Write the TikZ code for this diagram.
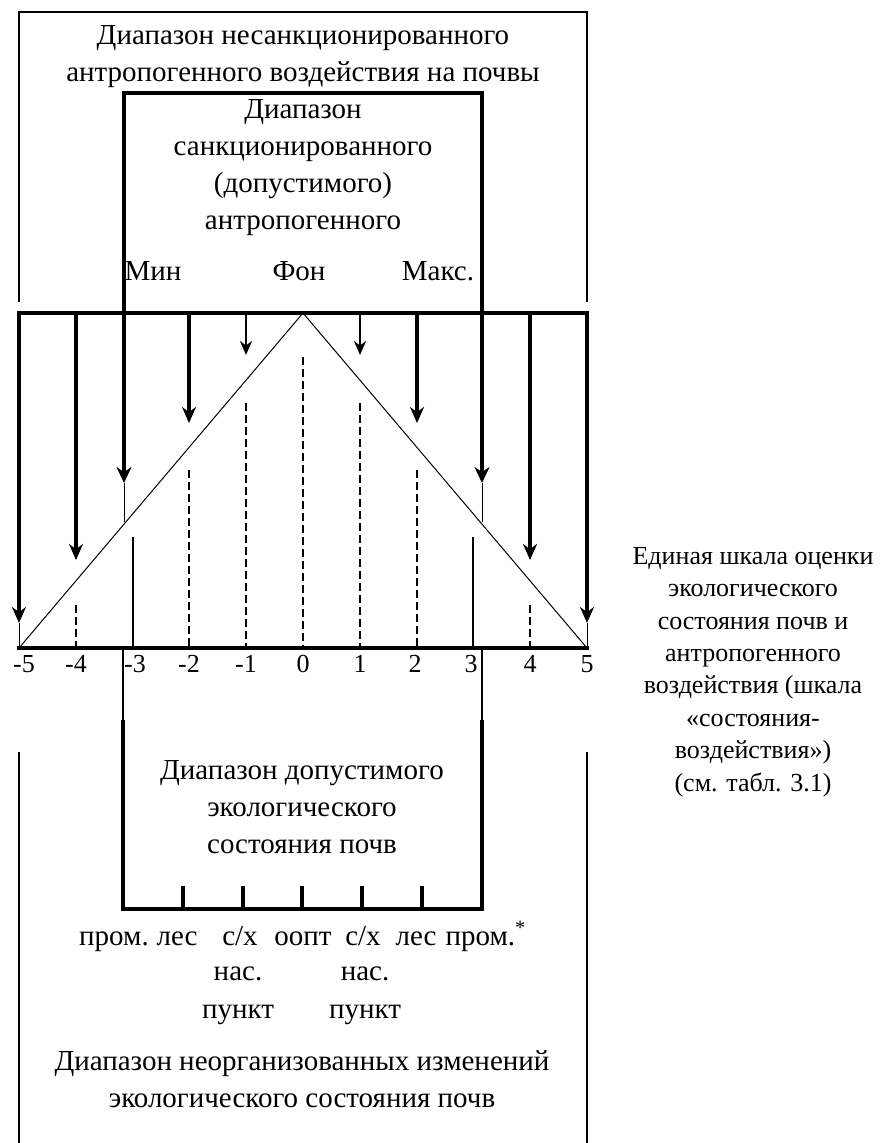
\documentclass[tikz,border=0pt]{standalone}
\usepackage{fontspec}
\setmainfont{Liberation Serif}
\usetikzlibrary{arrows.meta}
\tikzset{
  thinline/.style={line width=0.5pt},
  frameline/.style={line width=0.7pt},
  rangeline/.style={line width=2.2pt},
  boxline/.style={line width=1.8pt},
  downarrow/.style={-{Stealth[length=8pt, width=7pt]}, line width=2pt},
  lightarrow/.style={-{Stealth[length=7pt, width=6pt]}, line width=1.3pt},
  framearrow/.style={{Stealth[length=8pt, width=7.5pt]}-{Stealth[length=8pt, width=7.5pt]}, line width=2.4pt},
  dashtick/.style={line width=1.3pt, dash pattern=on 4pt off 2pt},
  solidtick/.style={line width=1pt},
  rangetext/.style={align=center, inner sep=0pt, font=\fontsize{14.5}{18.5}\selectfont},
  rowtext/.style={inner sep=0pt, anchor=base, font=\fontsize{14.5}{18.5}\selectfont},
  scaletext/.style={align=center, inner sep=0pt, font=\fontsize{13}{16.2}\selectfont},
  numtext/.style={inner sep=0pt, font=\fontsize{13}{15}\selectfont},
}

\begin{document}
\begin{tikzpicture}[x=0.5pt, y=-0.5pt]
  \useasboundingbox (0,0) rectangle (880,1143);

  % Outer frame: unsanctioned range (top part and open bottom part)
  \coordinate (outTL)  at (19,302);
  \coordinate (outTR)  at (587,302);
  \coordinate (outTop) at (303,12);
  \coordinate (outBL)  at (19,752);
  \coordinate (outBR)  at (587,752);
  \coordinate (outBot) at (303,1143);
  \draw[frameline] (outTL) -- (outTL |- outTop) -- (outTR |- outTop) -- (outTR);
  \draw[frameline] (outBL) -- (outBL |- outBot);
  \draw[frameline] (outBR) -- (outBR |- outBot);

  % Scale bars and the triangle
  \coordinate (barTL) at (17,313);
  \coordinate (barTR) at (589,313);
  \coordinate (barBL) at (17,648);
  \coordinate (barBR) at (589,648);
  \coordinate (apex)  at (303,313);
  \draw[rangeline] (barTL) -- (barTR);
  \draw[rangeline] (barBL) -- (barBR);

  % Arrow tips
  \coordinate (am5) at (19,623);
  \coordinate (am4) at (76,560);
  \coordinate (am2) at (189,423);
  \coordinate (am1) at (246,355);
  \coordinate (ap1) at (360,355);
  \coordinate (ap2) at (417,423);
  \coordinate (ap4) at (530,560);
  \coordinate (ap5) at (587,623);

  \draw[thinline] (am5 |- barBL) -- (apex) -- (ap5 |- barBL);

  \draw[downarrow]  (am5 |- barTL) -- (am5);
  \draw[downarrow]  (am4 |- barTL) -- (am4);
  \draw[downarrow]  (am2 |- barTL) -- (am2);
  \draw[lightarrow] (am1 |- barTL) -- (am1);
  \draw[lightarrow] (ap1 |- barTL) -- (ap1);
  \draw[downarrow]  (ap2 |- barTL) -- (ap2);
  \draw[downarrow]  (ap4 |- barTL) -- (ap4);
  \draw[downarrow]  (ap5 |- barTL) -- (ap5);
  \draw[thinline] (am5) -- (am5 |- barBL);
  \draw[thinline] (ap5) -- (ap5 |- barBL);

  % Dashed and solid ticks on the scale
  \coordinate (dm4) at (76,605);
  \coordinate (dm2) at (189,470);
  \coordinate (dm1) at (246,403);
  \coordinate (d0)  at (303,357);
  \coordinate (dp1) at (360,403);
  \coordinate (dp2) at (417,470);
  \coordinate (dp4) at (530,605);
  \coordinate (sm3) at (133,537);
  \coordinate (sp3) at (473,537);
  \draw[dashtick] (dm4) -- (dm4 |- barBL);
  \draw[dashtick] (dm2) -- (dm2 |- barBL);
  \draw[dashtick] (dm1) -- (dm1 |- barBL);
  \draw[dashtick] (d0)  -- (d0 |- barBL);
  \draw[dashtick] (dp1) -- (dp1 |- barBL);
  \draw[dashtick] (dp2) -- (dp2 |- barBL);
  \draw[dashtick] (dp4) -- (dp4 |- barBL);
  \draw[solidtick] (sm3) -- (sm3 |- barBL);
  \draw[solidtick] (sp3) -- (sp3 |- barBL);

  % Sanctioned range frame
  \coordinate (sanL)    at (124,483);
  \coordinate (sanR)    at (482,483);
  \coordinate (sanTop)  at (303,93);
  \coordinate (sanLlow) at (124,522);
  \coordinate (sanRlow) at (482,522);
  \draw[framearrow] (sanL) -- (sanL |- sanTop) -- (sanR |- sanTop) -- (sanR);
  \draw[thinline] (sanL) -- (sanLlow);
  \draw[thinline] (sanR) -- (sanRlow);

  % Admissible state box
  \coordinate (admL)   at (123,720);
  \coordinate (admR)   at (482,720);
  \coordinate (admBot) at (303,909);
  \coordinate (lesL)   at (183,886);
  \coordinate (agrL)   at (243,886);
  \coordinate (oopt)   at (302,886);
  \coordinate (agrR)   at (362,886);
  \coordinate (lesR)   at (422,886);
  \draw[frameline] (admL |- barBL) -- (admL);
  \draw[frameline] (admR |- barBL) -- (admR);
  \draw[boxline] (admL) -- (admL |- admBot) -- (admR |- admBot) -- (admR);
  \draw[boxline] (lesL) -- (lesL |- admBot);
  \draw[boxline] (agrL) -- (agrL |- admBot);
  \draw[boxline] (oopt) -- (oopt |- admBot);
  \draw[boxline] (agrR) -- (agrR |- admBot);
  \draw[boxline] (lesR) -- (lesR |- admBot);

  % Texts
  \node[rangetext] (unsanc) at (303,57)  {Диапазон несанкционированного\\антропогенного воздействия на почвы};
  \node[rangetext] (sanc)   at (303,168) {Диапазон\\санкционированного\\(допустимого)\\антропогенного};
  \node[rowtext] (minlab) at (153,281) {Мин};
  \node[rowtext] (fonlab) at (299,281) {Фон};
  \node[rowtext] (maxlab) at (438,281) {Макс.};

  \node[numtext] (nm5) at (24,664)  {-5};
  \node[numtext] (nm4) at (76,664)  {-4};
  \node[numtext] (nm3) at (135,664) {-3};
  \node[numtext] (nm2) at (189,664) {-2};
  \node[numtext] (nm1) at (246,664) {-1};
  \node[numtext] (n0)  at (303,664) {0};
  \node[numtext] (np1) at (360,664) {1};
  \node[numtext] (np2) at (415,664) {2};
  \node[numtext] (np3) at (471,664) {3};
  \node[numtext] (np4) at (530,664) {4};
  \node[numtext] (np5) at (587,664) {5};

  \node[rangetext] (admiss) at (302,807) {Диапазон допустимого\\экологического\\состояния почв};
  \node[rowtext] (promL)  at (114,945) {пром.};
  \node[rowtext] (lesLt)  at (177,945) {лес};
  \node[rowtext] (agrLt)  at (240,945) {с/х};
  \node[rowtext] (ooptt)  at (303,945) {оопт};
  \node[rowtext] (agrRt)  at (363,945) {с/х};
  \node[rowtext] (lesRt)  at (416,945) {лес};
  \node[rowtext] (promR)  at (486,945) {пром.\textsuperscript{*}};
  \node[rowtext] (setlL)  at (238,980) {нас.};
  \node[rowtext] (setlR)  at (365,980) {нас.};
  \node[rowtext] (pointL) at (238,1018) {пункт};
  \node[rowtext] (pointR) at (365,1018) {пункт};
  \node[rangetext] (unorg)  at (302,1079) {Диапазон неорганизованных изменений\\экологического состояния почв};

  \node[scaletext] (unified) at (753,672) {Единая шкала оценки\\экологического\\состояния почв и\\антропогенного\\воздействия (шкала\\«состояния-\\воздействия»)\\(см. табл. 3.1)};
\end{tikzpicture}
\end{document}
